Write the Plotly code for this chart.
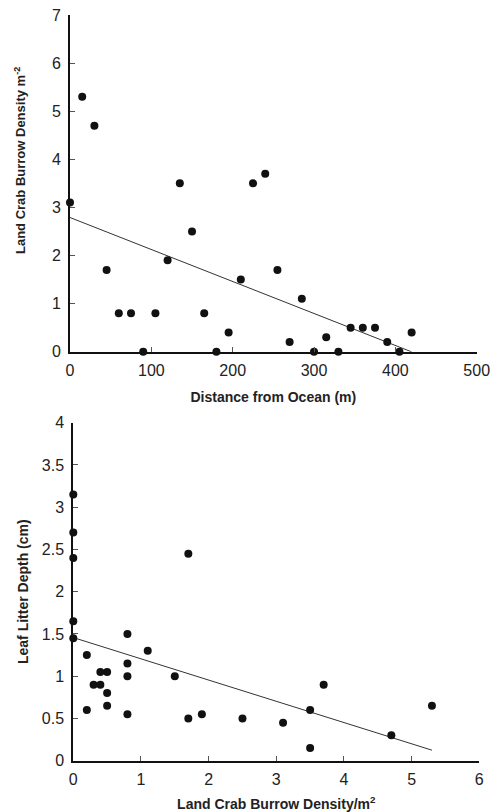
import numpy as np
import plotly.graph_objects as go

# Top panel: distance from ocean vs burrow density
distance_m = [0, 15, 30, 45, 60, 75, 90, 105, 120, 135, 150, 165, 180, 195, 210,
              225, 240, 255, 270, 285, 300, 315, 330, 345, 360, 375, 390, 405, 420]
burrow_density = [3.1, 5.3, 4.7, 1.7, 0.8, 0.8, 0.0, 0.8, 1.9, 3.5, 2.5, 0.8, 0.0, 0.4, 1.5,
                  3.5, 3.7, 1.7, 0.2, 1.1, 0.0, 0.3, 0.0, 0.5, 0.5, 0.5, 0.2, 0.0, 0.4]

# Bottom panel: burrow density vs leaf litter depth
density_b = [0, 0, 0, 0, 0, 0.2, 0.2, 0.3, 0.4, 0.4, 0.5, 0.5, 0.5, 0.8, 0.8, 0.8, 0.8,
             1.1, 1.5, 1.7, 1.7, 1.9, 2.5, 3.1, 3.5, 3.5, 3.7, 4.7, 5.3]
litter_cm = [3.15, 2.7, 2.4, 1.65, 1.45, 1.25, 0.6, 0.9, 0.9, 1.05, 1.05, 0.8, 0.65,
             1.5, 1.15, 1.0, 0.55, 1.3, 1.0, 2.45, 0.5, 0.55, 0.5, 0.45, 0.6, 0.15, 0.9, 0.3, 0.65]

top_xticks = [0, 100, 200, 300, 400, 500]
top_yticks = [0, 1, 2, 3, 4, 5, 6, 7]
bot_xticks = [0, 1, 2, 3, 4, 5, 6]
bot_yticks = [0, 0.5, 1, 1.5, 2, 2.5, 3, 3.5, 4]

W, H = 492, 812
FONT = "Liberation Sans, Arial, sans-serif"
TXT = "#222222"

s1, b1 = np.polyfit(distance_m, burrow_density, 1)
s2, b2 = np.polyfit(density_b, litter_cm, 1)
lx1 = np.array([0, max(distance_m)])
lx2 = np.array([0, max(density_b)])

fig = go.Figure()
fig.add_trace(go.Scatter(x=lx1, y=s1 * lx1 + b1, mode="lines",
                         line=dict(color="#333333", width=1), xaxis="x", yaxis="y",
                         cliponaxis=False, hoverinfo="skip"))
fig.add_trace(go.Scatter(x=distance_m, y=burrow_density, mode="markers",
                         marker=dict(color="#111111", size=8), xaxis="x", yaxis="y",
                         cliponaxis=False))
fig.add_trace(go.Scatter(x=lx2, y=s2 * lx2 + b2, mode="lines",
                         line=dict(color="#333333", width=1), xaxis="x2", yaxis="y2",
                         cliponaxis=False, hoverinfo="skip"))
fig.add_trace(go.Scatter(x=density_b, y=litter_cm, mode="markers",
                         marker=dict(color="#111111", size=8), xaxis="x2", yaxis="y2",
                         cliponaxis=False))

title_font = dict(family=FONT, size=14, color=TXT)
axis_common = dict(showgrid=False, zeroline=False, showline=True, linecolor="#111111",
                   linewidth=2, ticks="inside", ticklen=5, tickcolor="#555555", tickwidth=1,
                   tickfont=dict(family=FONT, size=16, color=TXT), fixedrange=True,
                   automargin=False)

def px_x(p):
    return p / W

def px_y(p):
    return 1 - p / H

fig.update_layout(
    width=W, height=H, margin=dict(l=0, r=0, t=0, b=0, autoexpand=False),
    paper_bgcolor="white", plot_bgcolor="white", showlegend=False,
    xaxis=dict(domain=[px_x(70), px_x(476.7)], range=[0, 500], tickvals=top_xticks,
               anchor="y", ticklabelstandoff=3,
               title=dict(text="<b>Distance from Ocean (m)</b>", font=title_font, standoff=14),
               **axis_common),
    yaxis=dict(domain=[px_y(351.7), px_y(15)], range=[0, 7], tickvals=top_yticks,
               anchor="x", ticklabelstandoff=4, **axis_common),
    xaxis2=dict(domain=[px_x(73.3), px_x(479.3)], range=[0, 6], tickvals=bot_xticks,
                anchor="y2", ticklabelstandoff=3,
                title=dict(text="<b>Land Crab Burrow Density/m<sup>2</sup></b>", font=title_font,
                           standoff=23),
                **axis_common),
    yaxis2=dict(domain=[px_y(760.7), px_y(422.7)], range=[0, 4], tickvals=bot_yticks,
                ticktext=[f"{v:g}" for v in bot_yticks], anchor="x2", ticklabelstandoff=4,
                title=dict(text="<b>Leaf Litter Depth (cm)</b>", font=title_font, standoff=10),
                **axis_common),
)

fig.add_annotation(text="<b>Land Crab Burrow Density m<sup>-2</sup></b>", x=px_x(20), y=px_y(161),
                   xref="paper", yref="paper", showarrow=False,
                   font=dict(family=FONT, size=13, color=TXT),
                   textangle=-90, xanchor="center", yanchor="middle")

fig.write_html("out.html", config={"displayModeBar": False, "staticPlot": True},
               post_script="document.body.style.margin='0';document.body.style.overflow='hidden';")
